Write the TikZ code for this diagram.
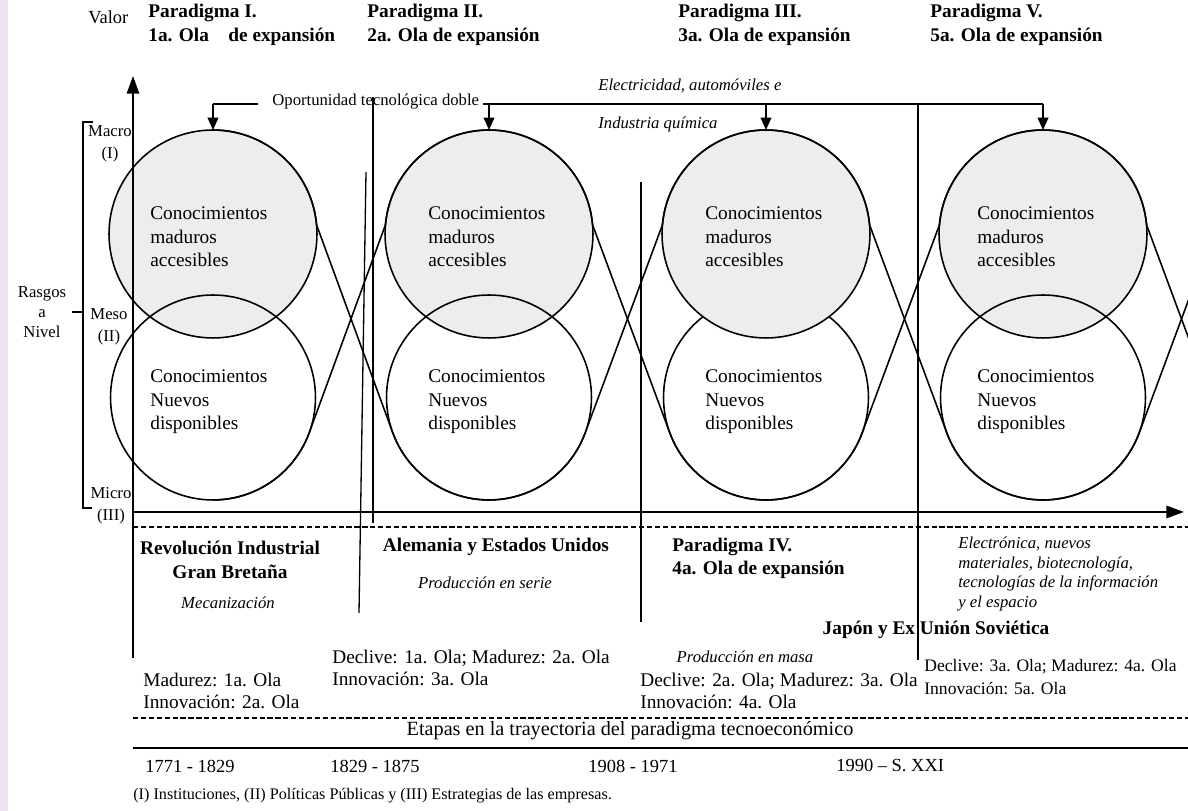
\documentclass[tikz,border=0pt]{standalone}
\usepackage{fontspec}
\setmainfont{Liberation Serif}
\usetikzlibrary{arrows.meta,calc}

\tikzset{
  circtop/.style={circle, draw, line width=0.9pt, fill=black!7, minimum size=4.16cm, inner sep=0pt, outer sep=0pt},
  circbot/.style={circle, draw, line width=0.9pt, minimum size=4.1cm, inner sep=0pt, outer sep=0pt},
  wave/.style={line width=0.9pt},
  sep/.style={line width=0.75pt},
  axisline/.style={line width=1.1pt, -{Triangle[length=10pt,width=7pt]}},
  arr/.style={line width=1pt, -{Triangle[length=7pt,width=6pt]}},
  txt/.style={inner sep=0pt, font=\fontsize{11}{12.6}\selectfont, align=left},
  ctxt/.style={inner sep=0pt, font=\fontsize{11}{13.4}\selectfont, align=left},
  hdr/.style={inner sep=0pt, font=\fontsize{11}{14}\selectfont\bfseries, align=left},
  lbl/.style={inner sep=0pt, font=\fontsize{9.5}{12.5}\selectfont, align=center},
  itl/.style={inner sep=0pt, font=\fontsize{9.5}{11.1}\selectfont\itshape, align=left},
}

\begin{document}
\begin{tikzpicture}[x=0.02cm, y=0.02cm]

\useasboundingbox (0,0) rectangle (1188,811);
\clip (0,0) rectangle (1188,811);
\fill[violet!12] (0,0) rectangle (8,811);

\node[circtop] (t1) at (213,577) {};
\node[circbot] (b1) at (213,413.5) {};

\node[circtop] (t2) at (489,577) {};
\node[circbot] (b2) at (489,413.5) {};

\node[circbot] (b3) at (766,413.5) {};
\node[circtop] (t3) at (766,577) {};

\node[circtop] (t4) at (1043,577) {};
\node[circbot] (b4) at (1043,413.5) {};

\node[ctxt, anchor=west] (k1) at (150,574) {Conocimientos\\maduros\\accesibles};
\node[ctxt, anchor=west] (n1) at (150,409) {Conocimientos\\Nuevos\\disponibles};
\node[ctxt, anchor=west] (k2) at (428,574) {Conocimientos\\maduros\\accesibles};
\node[ctxt, anchor=west] (n2) at (428,409) {Conocimientos\\Nuevos\\disponibles};
\node[ctxt, anchor=west] (k3) at (705,574) {Conocimientos\\maduros\\accesibles};
\node[ctxt, anchor=west] (n3) at (705,409) {Conocimientos\\Nuevos\\disponibles};
\node[ctxt, anchor=west] (k4) at (977,574) {Conocimientos\\maduros\\accesibles};
\node[ctxt, anchor=west] (n4) at (977,409) {Conocimientos\\Nuevos\\disponibles};

\draw[wave] (t1.90) arc[start angle=90, end angle=5, radius=2.08cm] -- (b2.200)
  arc[start angle=200, end angle=340, radius=2.05cm] -- (t3.175)
  arc[start angle=175, end angle=5, radius=2.08cm] -- (b4.200)
  arc[start angle=200, end angle=340, radius=2.05cm] -- ($(t4)+(277,0)+(175:2.08cm)$);

\draw[wave] (b1.270) arc[start angle=270, end angle=340, radius=2.05cm] -- (t2.175)
  arc[start angle=175, end angle=5, radius=2.08cm] -- (b3.200)
  arc[start angle=200, end angle=340, radius=2.05cm] -- (t4.175)
  arc[start angle=175, end angle=5, radius=2.08cm] -- ($(b4)+(277,0)+(200:2.05cm)$);

\coordinate (vbot) at (133,153);
\coordinate (vtop) at (133,735);
\coordinate (orig) at (133,299);
\coordinate (hend) at (1184,299);
\draw[axisline] (vbot) -- (vtop);
\draw[axisline] (orig) -- (hend);

\draw[dashed, dash pattern=on 3pt off 1.5pt, line width=0.6pt] (133,284) -- (1188,284);
\draw[dashed, dash pattern=on 3pt off 1.5pt, line width=0.6pt] (133,93) -- (1188,93);
\draw[line width=1.6pt] (133,63) -- (1188,63);

\draw[line width=0.8pt] (93,689) -- (83,689) -- (83,303) -- (92,303);
\draw[line width=0.8pt] (72,499) -- (83,499);

\node[lbl] (macro) at (110,667) {Macro\\(I)};
\node[lbl] (meso) at (109,484) {Meso\\(II)};
\node[lbl] (micro) at (111,305) {Micro\\(III)};
\node[lbl, font=\fontsize{9.5}{11.4}\selectfont] (rasgos) at (42,499) {Rasgos\\a\\Nivel};

\node[lbl, anchor=west] (opo) at (272,709) {Oportunidad tecnológica doble};
\coordinate (h1) at (258,707);
\coordinate (a1) at (t1.north |- h1);
\coordinate (h2) at (483,707);
\coordinate (a2) at (t2.north |- h2);
\coordinate (a3) at (t3.north |- h2);
\coordinate (a4) at (t4.north |- h2);
\draw[line width=1pt] (h1) -- (a1);
\draw[line width=1pt] (h2) -- (a4);
\draw[arr] (a1) -- (t1.north);
\draw[arr] (a2) -- (t2.north);
\draw[arr] (a3) -- (t3.north);
\draw[arr] (a4) -- (t4.north);

\draw[sep] (366,639) -- (359,198);
\draw[sep] (373,714) -- (373,288);
\draw[sep] (641,629) -- (641,189);
\draw[sep] (918,707) -- (918,151);

\node[txt, font=\fontsize{10.5}{12}\selectfont, anchor=west] (valor) at (88,794) {Valor};
\node[hdr, anchor=west] (p1) at (148,786) {Paradigma I.\\1a. Ola\quad de expansión};
\node[hdr, anchor=west] (p2) at (367,786) {Paradigma II.\\2a. Ola de expansión};
\node[hdr, anchor=west] (p3) at (678,786) {Paradigma III.\\3a. Ola de expansión};
\node[hdr, anchor=west] (p5) at (930,786) {Paradigma V.\\5a. Ola de expansión};

\node[itl, anchor=west] (elec) at (598,725) {Electricidad, automóviles e};
\node[itl, anchor=west] (quim) at (598,687) {Industria química};

\node[hdr, align=center, font=\fontsize{11}{13.7}\selectfont\bfseries] (rev) at (230,251) {Revolución Industrial\\Gran Bretaña};
\node[itl] (mec) at (228,208) {Mecanización};
\node[hdr] (alem) at (496,264) {Alemania y Estados Unidos};
\node[itl] (serie) at (485,228) {Producción en serie};
\node[hdr, anchor=west, font=\fontsize{11}{13}\selectfont\bfseries] (p4) at (672,253) {Paradigma IV.\\4a. Ola de expansión};
\node[itl, anchor=west] (elec2) at (958,237) {Electrónica, nuevos\\materiales, biotecnología,\\tecnologías de la información\\y el espacio};
\node[hdr] (japon) at (936,181) {Japón y Ex Unión Soviética};
\node[itl] (masa) at (745,154) {Producción en masa};

\node[txt, anchor=west] (m1) at (143,120) {Madurez: 1a. Ola\\Innovación: 2a. Ola};
\node[txt, anchor=west] (m2) at (332,143) {Declive: 1a. Ola; Madurez: 2a. Ola\\Innovación: 3a. Ola};
\node[txt, anchor=west] (m3) at (640,120) {Declive: 2a. Ola; Madurez: 3a. Ola\\Innovación: 4a. Ola};
\node[txt, anchor=west, font=\fontsize{10}{12.6}\selectfont] (m4) at (924,134) {Declive: 3a. Ola; Madurez: 4a. Ola\\Innovación: 5a. Ola};

\node[txt, font=\fontsize{11.5}{13}\selectfont] (etapas) at (630,80) {Etapas en la trayectoria del paradigma tecnoeconómico};
\node[txt, font=\fontsize{10.5}{12}\selectfont, anchor=west] (y1) at (145,45) {1771 - 1829};
\node[txt, font=\fontsize{10.5}{12}\selectfont, anchor=west] (y2) at (330,45) {1829 - 1875};
\node[txt, font=\fontsize{10.5}{12}\selectfont, anchor=west] (y3) at (588,45) {1908 - 1971};
\node[txt, font=\fontsize{10.5}{12}\selectfont, anchor=west] (y4) at (836,45) {1990 – S. XXI};
\node[txt, font=\fontsize{9.2}{11}\selectfont, anchor=west] (foot) at (133,15) {(I) Instituciones, (II) Políticas Públicas y (III) Estrategias de las empresas.};

\end{tikzpicture}
\end{document}
